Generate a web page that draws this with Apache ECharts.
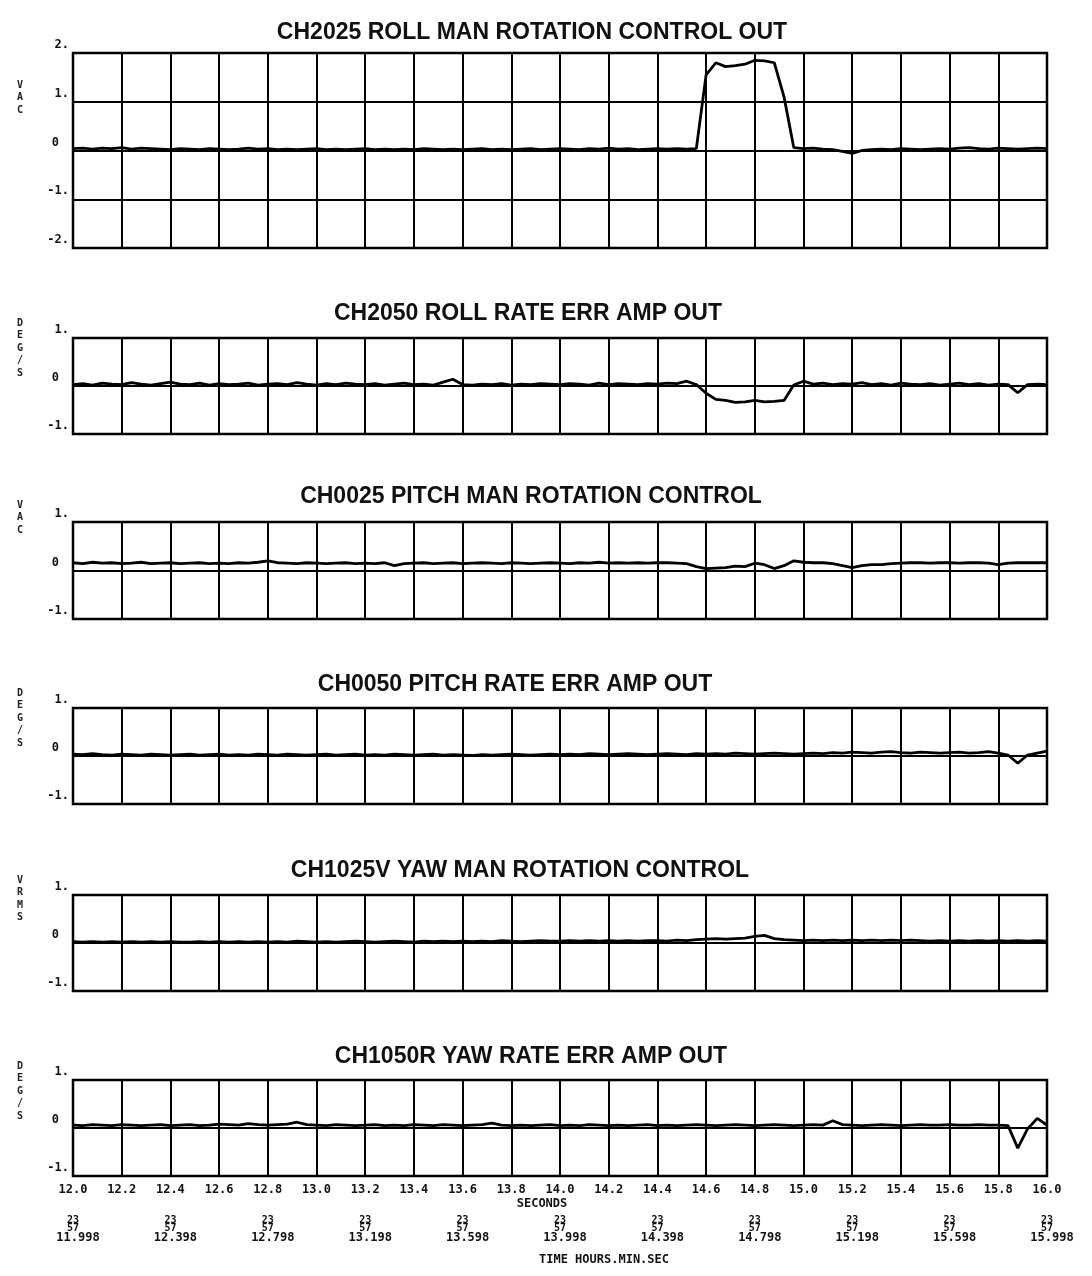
<!DOCTYPE html>
<html>
<head>
<meta charset="utf-8">
<script src="https://cdn.jsdelivr.net/npm/echarts@6/dist/echarts.min.js"></script>
<style>
html,body{margin:0;padding:0;background:#fff;}
#c{width:1092px;height:1276px;}
</style>
</head>
<body>
<div id="c"></div>
<script>
// ---------- DATA ----------
const times = [
12.00,12.04,12.08,12.12,12.16,12.20,12.24,12.28,12.32,12.36,
12.40,12.44,12.48,12.52,12.56,12.60,12.64,12.68,12.72,12.76,
12.80,12.84,12.88,12.92,12.96,13.00,13.04,13.08,13.12,13.16,
13.20,13.24,13.28,13.32,13.36,13.40,13.44,13.48,13.52,13.56,
13.60,13.64,13.68,13.72,13.76,13.80,13.84,13.88,13.92,13.96,
14.00,14.04,14.08,14.12,14.16,14.20,14.24,14.28,14.32,14.36,
14.40,14.44,14.48,14.52,14.56,14.60,14.64,14.68,14.72,14.76,
14.80,14.84,14.88,14.92,14.96,15.00,15.04,15.08,15.12,15.16,
15.20,15.24,15.28,15.32,15.36,15.40,15.44,15.48,15.52,15.56,
15.60,15.64,15.68,15.72,15.76,15.80,15.84,15.88,15.92,15.96,
16.00];

const rollManRotation = [
0.04,0.05,0.03,0.05,0.04,0.06,0.03,0.05,0.04,0.03,
0.02,0.04,0.03,0.02,0.04,0.03,0.02,0.03,0.05,0.03,
0.04,0.02,0.03,0.02,0.03,0.04,0.02,0.03,0.02,0.03,
0.04,0.02,0.03,0.02,0.03,0.02,0.04,0.03,0.02,0.03,
0.02,0.03,0.04,0.02,0.03,0.02,0.03,0.04,0.02,0.03,
0.04,0.03,0.02,0.04,0.03,0.05,0.03,0.04,0.02,0.03,
0.04,0.03,0.04,0.03,0.04,
1.55,1.80,1.72,1.74,1.77,1.85,1.84,1.80,1.10,0.06,
0.04,0.05,0.03,0.02,-0.02,
-0.06,0.00,0.02,0.03,0.02,0.04,0.03,0.02,0.03,0.04,
0.03,0.05,0.06,0.04,0.03,0.05,0.04,0.03,0.04,0.05,0.04];

const rollRateErr = [
0.03,0.05,0.02,0.06,0.04,0.03,0.07,0.04,0.02,0.05,
0.08,0.04,0.03,0.06,0.02,0.05,0.03,0.04,0.06,0.02,
0.04,0.05,0.03,0.07,0.04,0.02,0.05,0.03,0.06,0.04,
0.03,0.05,0.02,0.04,0.06,0.03,0.04,0.02,0.08,0.14,
0.03,0.02,0.04,0.03,0.05,0.02,0.04,0.03,0.05,0.04,
0.03,0.05,0.04,0.02,0.06,0.03,0.05,0.04,0.03,0.05,
0.04,0.06,0.05,0.10,0.03,
-0.15,-0.28,-0.30,-0.34,-0.33,-0.30,-0.33,-0.32,-0.30,0.02,
0.10,0.04,0.06,0.03,0.05,
0.04,0.07,0.03,0.05,0.02,0.06,0.04,0.03,0.05,0.02,
0.04,0.06,0.03,0.05,0.02,0.04,0.03,-0.14,0.03,0.04,0.03];

const pitchManRotation = [
0.16,0.14,0.17,0.15,0.16,0.14,0.15,0.17,0.14,0.15,
0.16,0.14,0.15,0.16,0.14,0.15,0.14,0.16,0.15,0.17,
0.20,0.16,0.15,0.14,0.16,0.15,0.14,0.15,0.16,0.14,
0.15,0.14,0.16,0.10,0.14,0.15,0.16,0.14,0.15,0.16,
0.14,0.15,0.16,0.15,0.14,0.16,0.15,0.14,0.15,0.16,
0.15,0.14,0.16,0.15,0.17,0.15,0.16,0.15,0.16,0.15,
0.16,0.16,0.15,0.14,0.08,
0.04,0.05,0.06,0.09,0.08,0.15,0.12,0.04,0.10,0.20,
0.17,0.16,0.16,0.14,0.10,
0.06,0.10,0.12,0.12,0.14,0.15,0.16,0.16,0.15,0.16,
0.16,0.15,0.16,0.16,0.15,0.12,0.15,0.16,0.16,0.16,0.16];

const pitchRateErr = [
0.04,0.03,0.05,0.03,0.02,0.04,0.03,0.02,0.04,0.03,
0.02,0.03,0.04,0.02,0.03,0.04,0.02,0.03,0.02,0.04,
0.03,0.02,0.04,0.03,0.02,0.03,0.04,0.02,0.03,0.04,
0.02,0.03,0.02,0.04,0.03,0.02,0.03,0.04,0.02,0.03,
0.02,0.01,0.03,0.02,0.03,0.04,0.03,0.02,0.03,0.04,
0.03,0.04,0.03,0.05,0.04,0.03,0.04,0.05,0.04,0.03,
0.04,0.05,0.04,0.03,0.05,
0.04,0.05,0.04,0.06,0.05,0.04,0.05,0.06,0.05,0.04,
0.05,0.06,0.05,0.07,0.06,
0.08,0.07,0.06,0.08,0.09,0.07,0.06,0.08,0.07,0.06,
0.07,0.08,0.06,0.07,0.09,0.06,0.02,-0.15,0.02,0.06,0.10];

const yawManRotation = [
0.03,0.02,0.03,0.02,0.03,0.02,0.03,0.02,0.03,0.02,
0.03,0.02,0.02,0.03,0.02,0.03,0.02,0.03,0.02,0.03,
0.02,0.03,0.02,0.04,0.03,0.02,0.03,0.02,0.03,0.04,
0.03,0.02,0.03,0.04,0.03,0.02,0.04,0.03,0.04,0.03,
0.04,0.03,0.04,0.03,0.05,0.04,0.03,0.04,0.05,0.04,
0.04,0.05,0.04,0.05,0.04,0.05,0.04,0.05,0.04,0.05,
0.05,0.04,0.06,0.05,0.07,
0.08,0.09,0.08,0.09,0.10,0.14,0.16,0.09,0.07,0.06,
0.05,0.06,0.05,0.06,0.05,
0.06,0.05,0.06,0.05,0.06,0.05,0.06,0.05,0.04,0.05,
0.04,0.05,0.04,0.05,0.04,0.05,0.04,0.05,0.04,0.05,0.04];

const yawRateErr = [
0.06,0.05,0.07,0.06,0.05,0.07,0.06,0.05,0.06,0.07,
0.05,0.06,0.07,0.05,0.06,0.08,0.07,0.06,0.09,0.07,
0.06,0.07,0.08,0.12,0.07,0.06,0.05,0.07,0.06,0.05,
0.06,0.07,0.05,0.06,0.05,0.07,0.06,0.05,0.07,0.06,
0.05,0.06,0.07,0.10,0.06,0.05,0.06,0.05,0.06,0.07,
0.05,0.06,0.05,0.07,0.06,0.05,0.06,0.05,0.06,0.07,
0.05,0.06,0.05,0.06,0.07,
0.06,0.05,0.06,0.07,0.06,0.05,0.06,0.07,0.06,0.05,
0.06,0.07,0.06,0.15,0.07,
0.06,0.05,0.06,0.07,0.06,0.05,0.06,0.07,0.06,0.06,
0.07,0.06,0.06,0.07,0.06,0.06,0.05,-0.42,-0.02,0.20,0.06];

const panelTitles = [
'CH2025 ROLL MAN ROTATION CONTROL OUT',
'CH2050 ROLL RATE ERR AMP OUT',
'CH0025 PITCH MAN ROTATION CONTROL',
'CH0050 PITCH RATE ERR AMP OUT',
'CH1025V YAW MAN ROTATION CONTROL',
'CH1050R YAW RATE ERR AMP OUT'];
const panelUnits = ['VAC','DEG/S','VAC','DEG/S','VRMS','DEG/S'];
const panelRanges = [[-2,2],[-1,1],[-1,1],[-1,1],[-1,1],[-1,1]];
const secondsLabels = ['12.0','12.2','12.4','12.6','12.8','13.0','13.2','13.4','13.6','13.8',
'14.0','14.2','14.4','14.6','14.8','15.0','15.2','15.4','15.6','15.8','16.0'];
const timeLabels = ['11.998','12.398','12.798','13.198','13.598','13.998',
'14.398','14.798','15.198','15.598','15.998'];
const timeStack = ['23','57'];
const seriesList = [rollManRotation, rollRateErr, pitchManRotation, pitchRateErr, yawManRotation, yawRateErr];

// ---------- LAYOUT ----------
const PL = 73, PW = 974;
const panelLayout = [
  {top:53, height:195, titleY:33, titleX:532, unitY:85},
  {top:338, height:96, titleY:314, titleX:528, unitY:323},
  {top:522, height:97, titleY:497, titleX:531, unitY:505},
  {top:708, height:96, titleY:685, titleX:515, unitY:693},
  {top:895, height:96, titleY:871, titleX:520, unitY:880},
  {top:1080, height:96, titleY:1057, titleX:531, unitY:1066}
];
const MONO = '"DejaVu Sans Mono", monospace';
const SANS = '"Liberation Sans", Arial, sans-serif';

const grid = [], xAxis = [], yAxis = [], series = [], graphic = [];
panelLayout.forEach((p, k) => {
  grid.push({left:PL, width:PW, top:p.top, height:p.height, show:true,
    borderColor:'#000', borderWidth:2.5, backgroundColor:'transparent'});
  const last = k === panelLayout.length - 1;
  xAxis.push({
    type:'value', gridIndex:k, min:12, max:16, interval:0.2,
    axisLine:{show:false}, axisTick:{show:false},
    splitLine:{show:true, lineStyle:{color:'#000', width:2}},
    axisLabel:{show:last, margin:8, color:'#111',
      fontFamily:MONO, fontWeight:'bold', fontSize:12,
      formatter:(v, i) => secondsLabels[i] || ''}
  });
  yAxis.push({
    type:'value', gridIndex:k, min:panelRanges[k][0], max:panelRanges[k][1], interval:1,
    axisLine:{show:false}, axisTick:{show:false},
    splitLine:{show:true, lineStyle:{color:'#000', width:2}},
    axisLabel:{show:true, margin:4, color:'#111',
      formatter:(v) => v === 0 ? '{z|0}' : '{n|' + v + '.}',
      rich:{
        n:{fontFamily:MONO, fontWeight:'bold', fontSize:12, padding:[0,0,16,0], color:'#111'},
        z:{fontFamily:MONO, fontWeight:'bold', fontSize:12, padding:[0,10,16,0], color:'#111'}
      }}
  });
  series.push({
    type:'line', xAxisIndex:k, yAxisIndex:k,
    data: times.map((t, i) => [t, seriesList[k][i]]),
    showSymbol:false, symbol:'none', animation:false,
    lineStyle:{color:'#000', width:2.8}
  });
  graphic.push({type:'text', x:p.titleX, y:p.titleY, silent:true,
    style:{text:panelTitles[k], fill:'#111', font:'bold 23px ' + SANS,
      textAlign:'center', textVerticalAlign:'middle'}});
  graphic.push({type:'text', x:20, y:p.unitY - 6, silent:true,
    style:{text:panelUnits[k].split('').join('\n'), fill:'#222',
      font:'bold 10px ' + MONO, lineHeight:12.5, textAlign:'center'}});
});

// time-of-day axis below the last panel
xAxis.push({
  type:'value', gridIndex:5, min:12, max:16, interval:0.4, position:'bottom', offset:32,
  axisLine:{show:false}, axisTick:{show:false}, splitLine:{show:false},
  axisLabel:{show:true, margin:8,
    formatter:(v, i) => '{s|' + timeStack[0] + '}\n{s|' + timeStack[1] + '}\n{v|' + (timeLabels[i] || '') + '}',
    rich:{
      s:{fontFamily:MONO, fontWeight:'bold', fontSize:10, lineHeight:8, color:'#111'},
      v:{fontFamily:MONO, fontWeight:'bold', fontSize:12, lineHeight:12, padding:[0,0,0,10], color:'#111'}
    }}
});

graphic.push({type:'text', x:542, y:1204, silent:true,
  style:{text:'SECONDS', fill:'#111', font:'bold 12px ' + MONO, textAlign:'center', textVerticalAlign:'middle'}});
graphic.push({type:'text', x:604, y:1260, silent:true,
  style:{text:'TIME HOURS.MIN.SEC', fill:'#111', font:'bold 12px ' + MONO, textAlign:'center', textVerticalAlign:'middle'}});

const chart = echarts.init(document.getElementById('c'), null, {renderer:'canvas', width:1092, height:1276});
chart.setOption({
  backgroundColor:'#fff',
  animation:false,
  grid, xAxis, yAxis, series, graphic
});
</script>
</body>
</html>
